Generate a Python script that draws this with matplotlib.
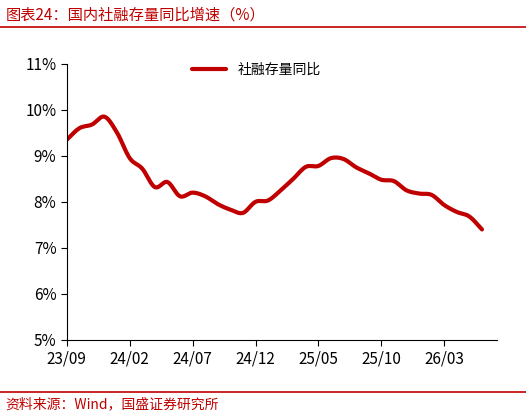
import matplotlib
matplotlib.use("Agg")
import matplotlib.pyplot as plt
import numpy as np

plt.rcParams['font.family'] = ['Noto Sans CJK SC', 'DejaVu Sans']

months = ["23/09","23/10","23/11","23/12","24/01","24/02","24/03","24/04","24/05","24/06","24/07","24/08",
          "24/09","24/10","24/11","24/12","25/01","25/02","25/03","25/04","25/05","25/06","25/07","25/08",
          "25/09","25/10","25/11","25/12","26/01","26/02","26/03","26/04","26/05","26/06"]
values = [9.35,9.6,9.68,9.85,9.5,8.95,8.72,8.32,8.43,8.12,8.2,8.12,
          7.95,7.83,7.76,8.0,8.03,8.25,8.5,8.76,8.78,8.95,8.93,8.75,
          8.62,8.48,8.45,8.25,8.18,8.15,7.93,7.78,7.68,7.4]
tick_labels = ["23/09","24/02","24/07","24/12","25/05","25/10","26/03"]
series_name = "社融存量同比"

def catmull(x, y, n=10):
    x = np.asarray(x, float); y = np.asarray(y, float)
    px = np.concatenate([[2*x[0]-x[1]], x, [2*x[-1]-x[-2]]])
    py = np.concatenate([[2*y[0]-y[1]], y, [2*y[-1]-y[-2]]])
    xs, ys = [], []
    t = np.linspace(0, 1, n, endpoint=False)
    for i in range(1, len(px)-2):
        for P, out in ((px, xs), (py, ys)):
            p0, p1, p2, p3 = P[i-1], P[i], P[i+1], P[i+2]
            out.extend(0.5*((2*p1) + (-p0+p2)*t + (2*p0-5*p1+4*p2-p3)*t**2 + (-p0+3*p1-3*p2+p3)*t**3))
    xs.append(x[-1]); ys.append(y[-1])
    return np.array(xs), np.array(ys)

red = "#C00000"
fig = plt.figure(figsize=(5.26,4.17), dpi=100)
ax = fig.add_axes([0.127,0.185,0.818,0.662])
x = np.arange(len(months))
sx, sy = catmull(x, values)
ax.plot(sx, sy, color=red, lw=3, label=series_name, solid_capstyle='round')
ax.set_ylim(5,11)
ax.set_yticks(np.arange(5,12))
ax.set_yticklabels([f"{v}%" for v in range(5,12)], fontsize=11)
ax.set_xlim(0, 34.2)
ax.set_xticks([months.index(t) for t in tick_labels])
ax.set_xticklabels(tick_labels, fontsize=11)
for s in ['top','right']:
    ax.spines[s].set_visible(False)
ax.tick_params(direction='out', length=4)
ax.legend(loc='upper center', frameon=False, fontsize=10, handlelength=2.5, bbox_to_anchor=(0.44,1.05))

fig.text(0.01,0.965,"图表24：国内社融存量同比增速（%）", color=red, fontsize=11, style='italic', va='center')
fig.add_artist(plt.Line2D([0.0,1.0],[0.935,0.935], color=red, lw=1.2, transform=fig.transFigure))
fig.add_artist(plt.Line2D([0.0,1.0],[0.06,0.06], color=red, lw=1.2, transform=fig.transFigure))
fig.text(0.01,0.03,"资料来源：Wind，国盛证券研究所", color=red, fontsize=10, style='italic', va='center')
fig.savefig("out.png", dpi=100)
